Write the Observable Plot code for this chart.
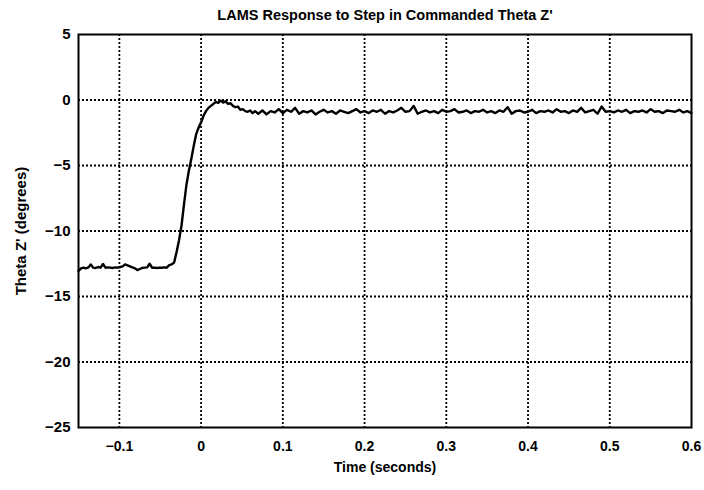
<!DOCTYPE html>
<html>
<head>
<meta charset="utf-8">
<script src="https://cdn.jsdelivr.net/npm/d3@7"></script>
<script src="https://cdn.jsdelivr.net/npm/@observablehq/plot@0.6"></script>
<style>
  html, body { margin: 0; padding: 0; background: #fff; }
  svg { display: block; }
</style>
</head>
<body>
<div id="chart"></div>
<script>
const titleText = "LAMS Response to Step in Commanded Theta Z'";
const xLabel = "Time (seconds)";
const yLabel = "Theta Z' (degrees)";
const xTicks = [-0.1, 0, 0.1, 0.2, 0.3, 0.4, 0.5, 0.6];
const yTicks = [5, 0, -5, -10, -15, -20, -25];
const xGrid = [-0.1, 0, 0.1, 0.2, 0.3, 0.4, 0.5];
const yGrid = [0, -5, -10, -15, -20];

// Step-response trace
const timeA = [-0.150,-0.147,-0.144,-0.141,-0.138,-0.135,-0.132,-0.129,-0.126,-0.123,-0.120,-0.117,-0.114,-0.111,-0.108,-0.105,-0.102,-0.099,-0.096,-0.093,-0.090,-0.087,-0.084,-0.081,-0.078,-0.075,-0.072,-0.069,-0.066,-0.063,-0.060,-0.057,-0.054,-0.051,-0.048,-0.045,-0.042,-0.039,-0.036,-0.033,-0.030,-0.027,-0.024,-0.021,-0.018,-0.015,-0.012,-0.009,-0.006,-0.003,0.000,0.003,0.006,0.009,0.012,0.015,0.018,0.021,0.024,0.027,0.030,0.033,0.036,0.039,0.042,0.045,0.048,0.051,0.054,0.057,0.060,0.063,0.066,0.070];
const thetaA = [-13.05,-12.85,-12.80,-12.85,-12.78,-12.55,-12.80,-12.82,-12.75,-12.80,-12.52,-12.80,-12.78,-12.80,-12.82,-12.78,-12.80,-12.75,-12.70,-12.55,-12.62,-12.70,-12.78,-12.85,-12.98,-12.90,-12.82,-12.80,-12.78,-12.50,-12.80,-12.80,-12.82,-12.80,-12.80,-12.78,-12.80,-12.60,-12.55,-12.40,-11.60,-10.70,-9.60,-8.00,-6.50,-5.40,-4.50,-3.50,-2.60,-2.10,-1.70,-1.20,-0.85,-0.60,-0.45,-0.30,-0.15,-0.22,-0.05,-0.20,-0.10,-0.30,-0.25,-0.45,-0.55,-0.50,-0.75,-0.70,-0.85,-0.90,-0.80,-1.00,-0.85,-1.05];
const timeB = [0.075,0.080,0.085,0.090,0.095,0.100,0.105,0.110,0.115,0.120,0.125,0.130,0.135,0.140,0.145,0.150,0.155,0.160,0.165,0.170,0.175,0.180,0.185,0.190,0.195,0.200,0.205,0.210,0.215,0.220,0.225,0.230,0.235,0.240,0.245,0.250,0.255,0.260,0.265,0.270,0.275,0.280,0.285,0.290,0.295,0.300,0.305,0.310,0.315,0.320,0.325,0.330,0.335,0.340,0.345,0.350,0.355,0.360,0.365,0.370,0.375,0.380,0.385,0.390,0.395,0.400,0.405,0.410,0.415,0.420,0.425,0.430,0.435,0.440,0.445,0.450,0.455,0.460,0.465,0.470,0.475,0.480,0.485,0.490,0.495,0.500,0.505,0.510,0.515,0.520,0.525,0.530,0.535,0.540,0.545,0.550,0.555,0.560,0.565,0.570,0.575,0.580,0.585,0.590,0.595,0.600];
const thetaB = [-0.80,-1.10,-0.85,-0.95,-0.70,-1.00,-0.75,-0.90,-0.60,-1.05,-0.85,-0.95,-0.80,-1.10,-0.90,-0.75,-0.95,-0.85,-1.05,-0.80,-0.90,-1.00,-0.85,-0.70,-0.95,-0.85,-1.00,-0.80,-0.90,-0.75,-1.05,-0.85,-0.95,-0.80,-0.60,-0.90,-0.85,-0.45,-1.05,-0.90,-0.80,-0.95,-0.85,-1.00,-0.75,-0.90,-0.85,-0.70,-0.95,-0.90,-0.80,-1.00,-0.85,-0.90,-0.75,-0.95,-0.85,-1.00,-0.80,-0.90,-0.55,-1.05,-0.85,-0.80,-0.95,-0.90,-0.75,-1.00,-0.85,-0.90,-0.80,-0.95,-0.70,-0.90,-0.85,-1.00,-0.80,-0.90,-0.60,-0.95,-0.85,-0.75,-1.05,-0.50,-0.90,-0.85,-0.95,-0.80,-0.90,-0.75,-1.00,-0.85,-0.90,-0.80,-0.95,-0.70,-0.90,-0.85,-1.00,-0.80,-0.85,-0.90,-0.75,-0.95,-0.85,-1.00];

const time = timeA.concat(timeB);
const theta = thetaA.concat(thetaB);
const data = time.map((t, i) => ({t, v: theta[i]}));

const font = "'Liberation Sans', Arial, sans-serif";

const chart = Plot.plot({
  width: 704,
  height: 490,
  marginLeft: 78,
  marginRight: 13,
  marginTop: 34,
  marginBottom: 63,
  style: {fontFamily: font, fontSize: "13px", fontWeight: "bold", color: "#000", background: "#fff"},
  x: {domain: [-0.15, 0.6]},
  y: {domain: [-25, 5]},
  marks: [
    Plot.ruleX(xGrid, {stroke: "#000", strokeWidth: 1.8, strokeDasharray: "2,2"}),
    Plot.ruleY(yGrid, {stroke: "#000", strokeWidth: 1.8, strokeDasharray: "2,2"}),
    Plot.line(data, {x: "t", y: "v", stroke: "#000", strokeWidth: 2.4, strokeLinejoin: "round"}),
    Plot.frame({stroke: "#000", strokeWidth: 2}),
    Plot.axisX({ticks: xTicks, tickSize: 0, tickPadding: 14, fontSize: 14, fill: "#000",
      tickFormat: d => d === 0 ? "0" : d3.format(".1f")(d).replace("-", "\u2212"),
      label: xLabel, labelAnchor: "center", labelOffset: 44, labelArrow: "none"}),
    Plot.axisY({ticks: yTicks, tickSize: 0, tickPadding: 8, fontSize: 15, fill: "#000",
      tickFormat: d => String(d).replace("-", "\u2212"),
      label: yLabel, labelAnchor: "center", labelOffset: 63, labelArrow: "none"}),
    Plot.text([titleText], {frameAnchor: "top", dy: -25, fontSize: 14.5, fontWeight: "bold", fill: "#000"})
  ]
});
document.getElementById("chart").appendChild(chart);
</script>
</body>
</html>
